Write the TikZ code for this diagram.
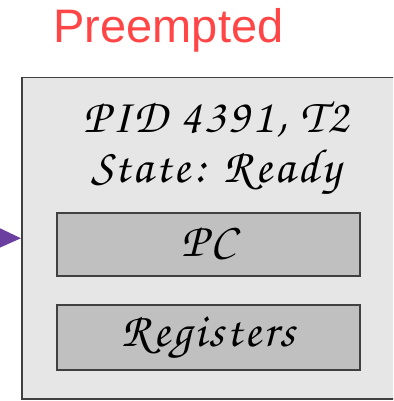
\documentclass[tikz,border=0pt]{standalone}
\usepackage{fontspec}
\newfontfamily\labelfont{Liberation Sans}
\newfontfamily\handfont[LetterSpace=6]{TeX Gyre Chorus}
\usetikzlibrary{arrows.meta}
\definecolor{pcbfill}{HTML}{E6E6E6}
\definecolor{slotfill}{HTML}{C0C0C0}
\definecolor{edgegray}{HTML}{404040}
\definecolor{statered}{HTML}{FF4545}
\definecolor{linkpurple}{HTML}{6B3FA0}
\begin{document}
\begin{tikzpicture}[x=1pt, y=-1pt,
    every node/.style={inner sep=0pt, font=\handfont\fontsize{48}{50}\selectfont},
    slot/.style={draw=edgegray, line width=1.5pt, fill=slotfill, anchor=north west, minimum width=303pt}]
    \useasboundingbox (0,0) rectangle (393,401);
    \clip (0,0) rectangle (393,401);
    \node[font=\labelfont\fontsize{47}{50}\selectfont, text=statered, anchor=base] (title) at (168.5,43) {Preempted};
    \node[draw=edgegray, line width=1.5pt, fill=pcbfill, anchor=north west, minimum width=500pt, minimum height=321pt] (pcb) at (21,77) {};
    \node[align=center, anchor=base] (info) at (216,182) {PID 4391, T2\\State: Ready};
    \node[slot, minimum height=63pt] (pc) at (56,212) {PC};
    \node[slot, minimum height=65pt] (regs) at (56,304) {Registers};
    \coordinate (src) at (-40,237.5);
    \draw[linkpurple, line width=3pt, -{Triangle[length=28pt, width=25pt]}] (src) -- (pcb.west);
\end{tikzpicture}
\end{document}
